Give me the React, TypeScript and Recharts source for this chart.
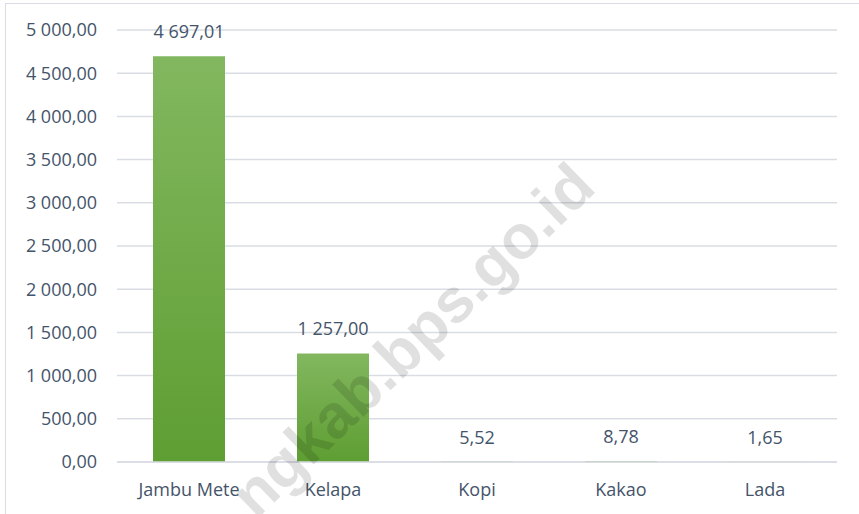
import { Bar, BarChart, CartesianGrid, LabelList, XAxis, YAxis } from "recharts";

const categories = ["Jambu Mete", "Kelapa", "Kopi", "Kakao", "Lada"];
const produksi = [4697.01, 1257.0, 5.52, 8.78, 1.65];
const yTicks = [0, 500, 1000, 1500, 2000, 2500, 3000, 3500, 4000, 4500, 5000];

const data = categories.map((name, i) => ({ name, value: produksi[i] }));

const textColor = "#44546A";
const fontFamily = "'Open Sans', sans-serif";

function formatNumber(v: number) {
  const [int, dec] = v.toFixed(2).split(".");
  return `${int.replace(/\B(?=(\d{3})+(?!\d))/g, " ")},${dec}`;
}

export default function App() {
  return (
    <div
      style={{
        position: "absolute",
        left: 0,
        top: 0,
        width: 859,
        height: 514,
        background: "#fff",
        overflow: "hidden",
        fontFamily,
      }}
    >
      <div
        style={{
          position: "absolute",
          left: 5,
          top: 3,
          right: -2,
          bottom: -2,
          borderLeft: "1.5px solid #d9dde3",
          borderTop: "1.5px solid #d9dde3",
        }}
      />
      <BarChart
        width={859}
        height={514}
        data={data}
        margin={{ top: 30, right: 22, bottom: 0, left: 0 }}
        barCategoryGap="25%"
        style={{ position: "absolute", left: 0, top: 0 }}
      >
        <defs>
          <linearGradient id="barGreen" x1="0" y1="0" x2="0" y2="1">
            <stop offset="0%" stopColor="#82B75F" />
            <stop offset="100%" stopColor="#5E9E32" />
          </linearGradient>
        </defs>
        <CartesianGrid vertical={false} stroke="#d9dde3" strokeWidth={1.5} />
        <XAxis
          dataKey="name"
          height={52}
          axisLine={{ stroke: "#d9dde3", strokeWidth: 1.5 }}
          tickLine={false}
          tickMargin={15}
          tick={{ fill: textColor, fontSize: 18, fontFamily }}
          interval={0}
        />
        <YAxis
          width={117}
          domain={[0, 5000]}
          ticks={yTicks}
          axisLine={false}
          tickLine={false}
          tickMargin={14}
          tick={{ fill: textColor, fontSize: 18, fontFamily }}
          tickFormatter={formatNumber}
          interval={0}
        />
        <Bar dataKey="value" fill="url(#barGreen)" isAnimationActive={false}>
          <LabelList
            dataKey="value"
            position="top"
            offset={18}
            formatter={(v: number) => formatNumber(v)}
            style={{ fill: textColor, fontSize: 18, fontFamily }}
          />
        </Bar>
      </BarChart>
      <svg
        width={859}
        height={514}
        style={{ position: "absolute", left: 0, top: 0, pointerEvents: "none" }}
      >
        <text
          x={598}
          y={190}
          textAnchor="end"
          transform="rotate(-44 598 190)"
          fontFamily="'Liberation Sans', Arial, sans-serif"
          fontWeight="bold"
          fontSize={62}
          fill="#000"
          fillOpacity={0.12}
        >
          ngkab.bps.go.id
        </text>
      </svg>
    </div>
  );
}
